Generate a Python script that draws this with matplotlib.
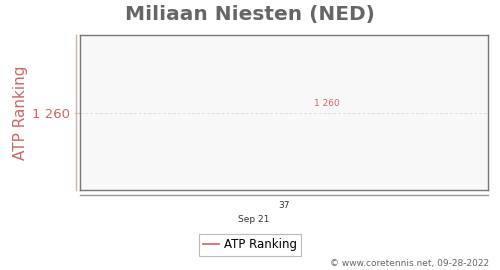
import matplotlib
matplotlib.use("Agg")
import matplotlib.pyplot as plt
from matplotlib.lines import Line2D

# datos
semanas = [37]
ranking = [1260]
etiqueta_fecha = "Sep 21"
titulo = "Miliaan Niesten (NED)"
serie = "ATP Ranking"
pie = "© www.coretennis.net, 09-28-2022"

rosa = "#cc6666"
gris = "#666666"

fig = plt.figure(figsize=(5, 2.7), dpi=100)
ax = fig.add_axes([0.16, 0.296, 0.816, 0.574])
ax.set_facecolor("#f8f8f8")

linea, = ax.plot(semanas, ranking, color=rosa, lw=1.2, label=serie)
for x, y in zip(semanas, ranking):
    ax.annotate(f"{y:,}".replace(",", " "), (x, y), xytext=(31, 3), textcoords="offset points",
                ha="center", va="bottom", fontsize=6.5, color=rosa)

ax.set_xlim(semanas[0] - 0.5, semanas[0] + 0.5)
ax.set_ylim(ranking[0] - 10, ranking[0] + 10)
ax.set_xticks(semanas)
ax.set_xticklabels([str(s) for s in semanas], fontsize=6.5, color="#333333")
ax.set_yticks(ranking)
ax.set_yticklabels([f"{r:,}".replace(",", " ") for r in ranking], fontsize=9.5, color=rosa)
ax.tick_params(axis="x", length=0, pad=8)
ax.tick_params(axis="y", length=4, color="#cccccc", pad=3)
ax.grid(axis="y", color="#dddddd", ls=(0, (3, 2)), lw=0.7)

for s in ax.spines.values():
    s.set_color("#777777")
    s.set_linewidth(1.0)

ax.set_ylabel(serie, fontsize=11, color=rosa, labelpad=3)

# linea del eje y (rosa) y segunda linea del eje x
ax.add_line(Line2D([-0.01, -0.01], [0, 1], transform=ax.transAxes, color="#ddaaaa",
                   lw=1.0, clip_on=False))
ax.add_line(Line2D([0, 1], [-0.032, -0.032], transform=ax.transAxes, color="#999999",
                   lw=1.0, clip_on=False))

ax.text(0.426, -0.19, etiqueta_fecha, transform=ax.transAxes, ha="center", va="center",
        fontsize=6.5, color="#333333")

fig.suptitle(titulo, x=0.5, y=0.98, fontsize=14.5, fontweight="bold", color=gris)

leg = fig.legend(handles=[linea], loc="center", bbox_to_anchor=(0.5, 0.093), fontsize=8.5,
                 frameon=True, fancybox=False, handlelength=1.4, handletextpad=0.4,
                 borderpad=0.35, borderaxespad=0)
leg.get_frame().set_edgecolor("#aaaaaa")
leg.get_frame().set_linewidth(0.8)

fig.text(0.978, 0.025, pie, ha="right", va="center", fontsize=6.5, color=gris)

fig.savefig("out.png", dpi=100)
